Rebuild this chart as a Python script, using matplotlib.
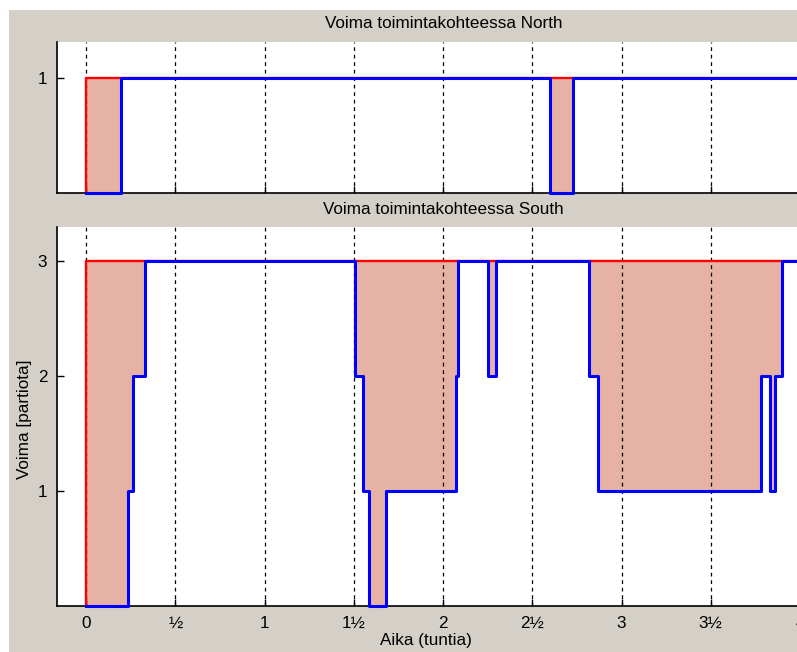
import numpy as np
import matplotlib
matplotlib.use('Agg')
import matplotlib.pyplot as plt
from matplotlib.patches import Rectangle

plt.rcParams['font.family'] = ['Liberation Sans', 'DejaVu Sans']

# step data (value holds from each time until the next one)
north_demand_t = [0.0, 4.3]
north_demand = [1, 1]
north_supply_t = [0.0, 0.195, 2.600, 2.730, 4.3]
north_supply = [0, 1, 0, 1, 1]

south_demand_t = [0.0, 4.3]
south_demand = [3, 3]
south_supply_t = [0.0, 0.235, 0.265, 0.329, 1.507, 1.554, 1.583, 1.680,
                  2.071, 2.085, 2.254, 2.297, 2.820, 2.870, 3.781, 3.832,
                  3.861, 3.901, 4.3]
south_supply = [0, 1, 2, 3, 2, 1, 0, 1, 2, 3, 2, 3, 2, 1, 2, 1, 2, 3, 3]

tick_vals = [0, 0.5, 1, 1.5, 2, 2.5, 3, 3.5, 4]
tick_labels = ['0', '½', '1', '1½', '2', '2½', '3', '3½', '4']

BG = '#d4d0c8'
FILL = '#e6b2a5'
FS = 12.3

W, H = 797, 652
fig = plt.figure(figsize=(W / 100, H / 100), dpi=100)
fig.patch.set_facecolor('white')
fig.patches.append(Rectangle((9 / W, 0), 1, 1 - 10 / H, transform=fig.transFigure,
                             facecolor=BG, edgecolor='none', zorder=-10))


def step_at(t, ts, vs):
    idx = np.searchsorted(ts, t, side='right') - 1
    return np.asarray(vs)[np.clip(idx, 0, len(vs) - 1)]


def draw(ax, dt, dv, st, sv, ymax, yticks):
    ax.set_facecolor('white')
    x = np.unique(np.concatenate([dt, st]))
    d = step_at(x, dt, dv)
    s = step_at(x, st, sv)
    # shade the shortfall between demand (red) and supply (blue)
    ax.fill_between(x, np.minimum(s, d), d, step='post', color=FILL,
                    linewidth=0, zorder=1)
    for t in tick_vals:
        ax.axvline(t, color='black', linestyle=(0, (3, 3)), linewidth=0.9, zorder=2)
    ax.plot(np.r_[0, dt], np.r_[0, dv], drawstyle='steps-post', color='#ff0000',
            linewidth=1.7, zorder=3, clip_on=False)
    ax.plot(st, sv, drawstyle='steps-post', color='#0000ff', linewidth=2.2, zorder=4,
            clip_on=False)
    ax.set_xlim(-0.1625, 4.168)
    ax.set_ylim(0, ymax)
    ax.set_yticks(yticks)
    ax.set_xticks(tick_vals)
    ax.set_xticklabels(tick_labels)
    for side in ['top', 'right']:
        ax.spines[side].set_visible(False)
    for side in ['left', 'bottom']:
        ax.spines[side].set_linewidth(1.2)
        ax.spines[side].set_zorder(2.5)
    ax.tick_params(direction='in', length=5, width=1, labelsize=FS, pad=7)


left = 57 / W
width = (830 - 57) / W
ax1 = fig.add_axes([left, 1 - 192.5 / H, width, (192.5 - 42) / H])
ax2 = fig.add_axes([left, 1 - 606 / H, width, (606 - 227) / H])

draw(ax1, north_demand_t, north_demand, north_supply_t, north_supply, 1.31, [1])
ax1.tick_params(labelbottom=False)
draw(ax2, south_demand_t, south_demand, south_supply_t, south_supply, 3.30, [1, 2, 3])

fig.text(443.5 / W, 1 - 24 / H, 'Voima toimintakohteessa North', ha='center', va='center', fontsize=FS)
fig.text(443.5 / W, 1 - 209 / H, 'Voima toimintakohteessa South', ha='center', va='center', fontsize=FS)
fig.text(426 / W, 1 - 641 / H, 'Aika (tuntia)', ha='center', va='center', fontsize=FS)
fig.text(25 / W, 1 - 419 / H, 'Voima [partiota]', ha='center', va='center', rotation=90, fontsize=FS)

fig.savefig('out.png', dpi=100)
